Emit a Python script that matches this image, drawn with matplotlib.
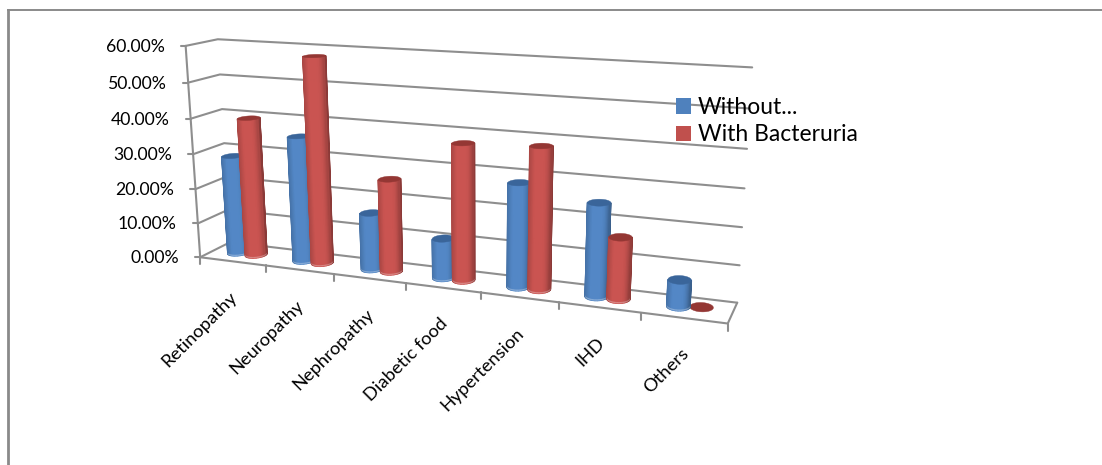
import numpy as np
import matplotlib
matplotlib.use("Agg")
import matplotlib.pyplot as plt
from matplotlib.collections import PolyCollection
from matplotlib.patches import Patch, Polygon

plt.rcParams["font.family"] = ["Lato", "DejaVu Sans"]

categories = ["Retinopathy", "Neuropathy", "Nephropathy", "Diabetic food",
              "Hypertension", "IHD", "Others"]
without_bacteruria = [28.5, 35.7, 16.0, 11.0, 28.3, 25.0, 7.0]
with_bacteruria = [39.7, 58.0, 26.0, 37.5, 38.4, 16.5, 0.5]
value_ticks = [0, 10, 20, 30, 40, 50, 60]
value_max = 60.0

BLUE, BLUE_TOP = "#4F81BD", "#3A659A"
RED, RED_TOP = "#C0504D", "#943734"
GRID = "#8E8E8E"
FRAME = "#8A8A8A"

# Anchor points of the 3D box: (across, depth, height) -> canvas pixels.
box_anchors = [
    ((0, 0, 0), (202, 257)), ((0, 0, 1), (187, 46)), ((0, 1, 0), (230, 243)),
    ((0, 1, 1), (218, 39)), ((1, 1, 0), (737, 302)), ((1, 1, 1), (752, 68)),
    ((1, 0, 0), (728, 323)),
    ((1 / 7, 0, 0), (266, 265)), ((2 / 7, 0, 0), (334, 274)), ((3 / 7, 0, 0), (406, 283)),
    ((4 / 7, 0, 0), (480, 293)), ((5 / 7, 0, 0), (558, 303)), ((6 / 7, 0, 0), (642, 313)),
    ((0, 0, 0.5), (190, 154)), ((0, 1, 0.5), (224, 143)), ((1, 1, 0.5), (745, 188)),
]


def fit_camera(anchors):
    rows, rhs = [], []
    for (x, y, z), (px, py) in anchors:
        rows.append([x, y, z, 1, 0, 0, 0, 0, -px * x, -px * y, -px * z])
        rows.append([0, 0, 0, 0, x, y, z, 1, -py * x, -py * y, -py * z])
        rhs += [px, py]
    sol = np.linalg.lstsq(np.array(rows, float), np.array(rhs, float), rcond=None)[0]
    return np.append(sol, 1.0).reshape(3, 4)


CAMERA = fit_camera(box_anchors)


def project(x, y, z):
    x, y, z = np.broadcast_arrays(np.asarray(x, float), np.asarray(y, float), np.asarray(z, float))
    h = CAMERA @ np.stack([x.ravel(), y.ravel(), z.ravel(), np.ones(x.size)])
    return (h[0] / h[2]).reshape(x.shape), (h[1] / h[2]).reshape(x.shape)


def shade(color, f):
    """Lighting across a cylinder: f runs 0..1 from its left to its right edge."""
    base = np.array(matplotlib.colors.to_rgb(color))
    if f < 0.25:
        k = 0.88 + 0.17 * (f / 0.25)
    elif f < 0.62:
        k = 1.05
    else:
        k = 1.05 - 0.33 * ((f - 0.62) / 0.38) ** 2
    return tuple(np.clip(base * k, 0, 1))


def draw_cylinder(ax, u, height, color, top_color, ru=0.0195, rv=0.22, vc=0.5):
    z = height / value_max
    t = np.linspace(0, 2 * np.pi, 49)
    cx, cy = u + ru * np.cos(t), vc + rv * np.sin(t)
    bx, by = project(cx, cy, 0)
    tx, ty = project(cx, cy, z)
    if z > 0.02:
        front = []
        for i in range(48):
            area = (bx[i + 1] - bx[i]) * (ty[i] - by[i]) - (tx[i] - bx[i]) * (by[i + 1] - by[i])
            front.append(area)
        sign = np.sign(np.sum(np.abs(front) * np.sign(front) * (np.sin(t[:-1]) < 0)))
        vis = [i for i in range(48) if np.sign(front[i]) == sign]
        xs = np.concatenate([bx[vis], bx[[j + 1 for j in vis]]])
        xmin, xmax = xs.min(), xs.max()
        lx, ly = project(cx, cy, 0.006)
        quads, colors, lights = [], [], []
        for i in vis:
            f = ((bx[i] + bx[i + 1]) / 2 - xmin) / (xmax - xmin)
            quads.append([(bx[i], by[i]), (bx[i + 1], by[i + 1]), (tx[i + 1], ty[i + 1]), (tx[i], ty[i])])
            colors.append(shade(color, f))
            lights.append([(bx[i], by[i]), (bx[i + 1], by[i + 1]), (lx[i + 1], ly[i + 1]), (lx[i], ly[i])])
        ax.add_collection(PolyCollection(quads, facecolors=colors, edgecolors=colors, linewidths=0.9, zorder=3))
        ax.add_collection(PolyCollection(lights, facecolors="#FFFFFF", edgecolors="none", alpha=0.3, zorder=3))
    ax.add_patch(Polygon(np.column_stack([tx, ty]), closed=True, facecolor=top_color,
                         edgecolor=top_color, linewidth=0.3, zorder=3))


fig = plt.figure(figsize=(11.02, 4.65), dpi=100)
ax = fig.add_axes([0, 0, 1, 1])
ax.set_xlim(0, 1102)
ax.set_ylim(465, 0)
ax.axis("off")

# Outer chart border (top and left sides only fall inside the canvas).
ax.plot([7.5, 1102], [10, 10], color=FRAME, lw=1.4, zorder=1)
ax.plot([7.5, 7.5], [10, 465], color=FRAME, lw=2.0, zorder=1)

# Walls and floor of the box.
grid_style = dict(color=GRID, lw=1.5, zorder=2, solid_capstyle="round")
for val in value_ticks:
    z = val / value_max
    px, py = project([0, 0, 1], [0, 1, 1], [z, z, z])
    ax.plot(px, py, **grid_style)
    tx0, ty0 = project(0, 0, z)
    ax.plot([tx0 - 5, tx0], [ty0, ty0], **grid_style)
    ax.text(tx0 - 21, ty0 + 1, f"{val:.2f}%", ha="right", va="center", fontsize=12.7, color="black")

px, py = project([0, 0], [0, 0], [0, 1])
ax.plot(px, py, **grid_style)
px, py = project([0, 1, 1], [0, 0, 1], [0, 0, 0])
ax.plot(px, py, **grid_style)

for i in range(len(categories) + 1):
    px, py = project(i / len(categories), 0, 0)
    ax.plot([px, px], [py, py + 7], **grid_style)

# Paired cylinders, the one nearer the viewer painted last.
n = len(categories)
viewer_u = 0.8
for i, (a, b) in enumerate(zip(without_bacteruria, with_bacteruria)):
    centre = (i + 0.5) / n
    pair = [(centre - 0.0195, a, BLUE, BLUE_TOP), (centre + 0.0195, b, RED, RED_TOP)]
    pair.sort(key=lambda item: -abs(item[0] - viewer_u))
    for u, val, col, top in pair:
        draw_cylinder(ax, u, val, col, top)
    lx, ly = project(centre, 0, 0)
    ax.text(lx + 2, ly + 33, categories[i], rotation=45, rotation_mode="anchor",
            ha="right", va="center", fontsize=13.2, color="black", zorder=5)

handles = [Patch(facecolor=BLUE, edgecolor="none", label="Without..."),
           Patch(facecolor=RED, edgecolor="none", label="With Bacteruria")]
ax.legend(handles=handles, loc="upper left", bbox_to_anchor=(676, 97), bbox_transform=ax.transData,
          frameon=False, fontsize=16.5, borderpad=0, borderaxespad=0, handlelength=0.655,
          handleheight=0.655, handletextpad=0.30, labelspacing=0.28).set_zorder(6)

fig.savefig("out.png", dpi=100)
